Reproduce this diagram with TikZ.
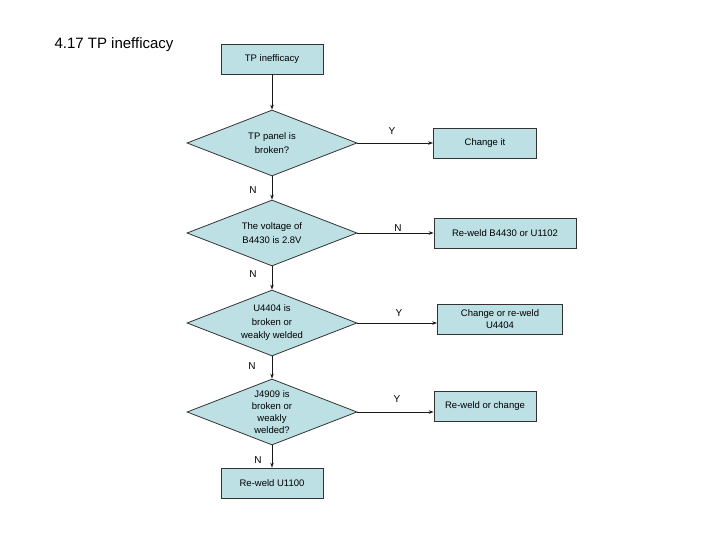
\documentclass[tikz,border=0pt]{standalone}
\usepackage{fontspec}
\setmainfont{Liberation Sans}
\usetikzlibrary{shapes.geometric,arrows.meta}
\definecolor{boxfill}{RGB}{189,224,228}
\begin{document}
\begin{tikzpicture}[x=1pt,y=-1pt,
  box/.style={draw=black!80,fill=boxfill,line width=0.8pt,minimum height=30pt,inner sep=0pt,font=\fontsize{9.5}{12}\selectfont,align=center},
  dec/.style={draw=black!80,fill=boxfill,line width=0.8pt,diamond,aspect=2.6,inner sep=0pt,minimum width=170pt,minimum height=66pt,font=\fontsize{9.5}{13.5}\selectfont,align=center},
  arr/.style={draw=black!90,line width=0.7pt,-{Stealth[length=5pt,width=3.5pt]}},
  lab/.style={font=\fontsize{10}{12}\selectfont}]
\useasboundingbox (0,0) rectangle (720,540);
\node[anchor=west,font=\fontsize{15}{17}\selectfont] (title) at (51,45) {4.17 TP inefficacy};
\node[box,minimum width=102pt] (b1) at (272,59) {TP inefficacy};
\node[dec] (d1) at (272,143) {TP panel is\\broken?};
\node[box,minimum width=103pt] (c1) at (485,143) {Change it};
\node[dec] (d2) at (272,233) {The voltage of\\B4430 is 2.8V};
\node[box,minimum width=142pt] (c2) at (505,233) {Re-weld B4430 or U1102};
\node[dec] (d3) at (272,323) {U4404 is\\broken or\\weakly welded};
\node[box,minimum width=125pt] (c3) at (500,319) {Change or re-weld\\U4404};
\node[dec,minimum height=66pt,font=\fontsize{9.5}{12}\selectfont] (d4) at (272,412) {J4909 is\\broken or\\weakly\\welded?};
\node[box,minimum width=102pt] (c4) at (485,406) {Re-weld or change};
\node[box,minimum width=102pt] (b5) at (272,483) {Re-weld U1100};
\draw[arr] (b1) -- (d1);
\draw[arr] (d1) -- (d2);
\draw[arr] (d2) -- (d3);
\draw[arr] (d3) -- (d4);
\draw[arr] (d4) -- (b5);
\draw[arr] (d1.east) -- (c1.west);
\draw[arr] (d2.east) -- (c2.west);
\draw[arr] (d3.east) -- (c3.west |- d3.east);
\draw[arr] (d4.east) -- (c4.west |- d4.east);
\node[lab] (ly1) at (392,131) {Y};
\node[lab] (ln1) at (253,190) {N};
\node[lab] (ln2) at (398,228) {N};
\node[lab] (ln3) at (253,274) {N};
\node[lab] (ly3) at (399,313) {Y};
\node[lab] (ln4) at (252,366) {N};
\node[lab] (ly4) at (397,399) {Y};
\node[lab] (ln5) at (258,460) {N};
\end{tikzpicture}
\end{document}
